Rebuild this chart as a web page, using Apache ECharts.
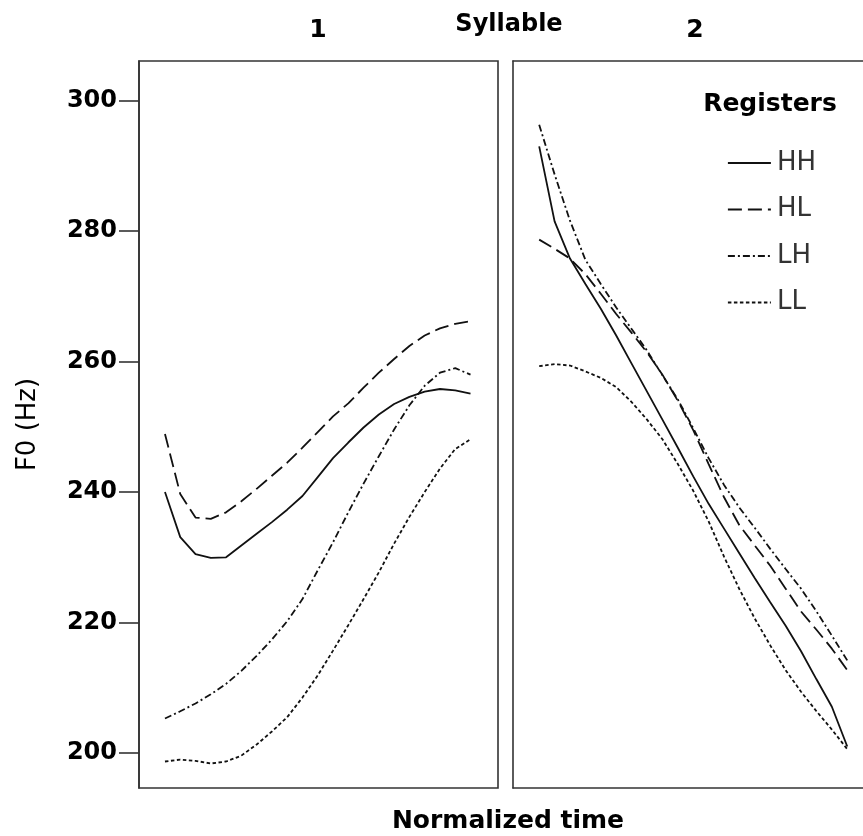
<!DOCTYPE html>
<html>
<head>
<meta charset="utf-8">
<script src="https://cdn.jsdelivr.net/npm/echarts@6/dist/echarts.min.js"></script>
<style>html,body{margin:0;padding:0;background:#fff}#c{width:863px;height:836px}</style>
</head>
<body>
<div id="c"></div>
<script>
// Normalized time (% of syllable), 21 samples
const timePoints = [0,5,10,15,20,25,30,35,40,45,50,55,60,65,70,75,80,85,90,95,100];
const yTicks = [200,220,240,260,280,300];
const registers = ['HH','HL','LH','LL'];
const panels = ['1','2'];

// Syllable 1 (F0 in Hz)
const hh1 = [240.0,233.1,230.5,229.9,230.0,231.8,233.6,235.4,237.3,239.4,242.3,245.2,247.6,249.9,251.9,253.5,254.6,255.4,255.8,255.6,255.1];
const hl1 = [248.9,239.7,236.1,235.9,236.9,238.6,240.5,242.5,244.5,246.8,249.2,251.6,253.6,256.0,258.3,260.4,262.4,264.0,265.1,265.8,266.2];
const lh1 = [205.3,206.4,207.6,209.0,210.6,212.6,214.9,217.4,220.2,223.6,228.0,232.3,236.9,241.3,245.5,249.6,253.3,256.3,258.3,259.0,258.0];
const ll1 = [198.7,199.0,198.8,198.4,198.7,199.6,201.3,203.3,205.5,208.5,211.9,215.7,219.6,223.6,227.7,232.1,236.2,240.0,243.6,246.6,248.1];

// Syllable 2 (F0 in Hz)
const hh2 = [293.0,281.5,275.8,271.9,268.1,264.0,259.7,255.4,251.1,246.8,242.4,238.2,234.4,230.6,226.8,223.1,219.5,215.6,211.3,207.1,201.0];
const hl2 = [278.7,277.3,275.8,273.4,270.4,267.3,264.4,261.4,258.0,254.0,249.5,244.3,239.2,234.9,231.8,228.7,225.2,221.7,218.9,216.0,212.7];
const lh2 = [296.3,288.7,281.6,275.6,271.9,268.3,265.0,261.7,257.9,254.2,249.8,245.2,241.1,237.6,234.5,231.3,228.2,225.2,221.7,218.0,214.2];
const ll2 = [259.3,259.6,259.4,258.5,257.5,256.1,253.8,251.1,248.1,244.3,240.2,235.5,230.1,225.1,220.6,216.5,212.7,209.4,206.4,203.6,200.6];

const panelData = [[hh1,hl1,lh1,ll1],[hh2,hl2,lh2,ll2]];
const dashTypes = ['solid',[14,6],[7,3,2,3],[3.5,2.5]];

const chart = echarts.init(document.getElementById('c'), null, {renderer:'canvas'});
const FONT = 'DejaVu Sans';
const FRAME = {color:'#333', width:1.6};
const LINE_C = '#111';

const series = [];
panelData.forEach((arrs, p) => {
  arrs.forEach((vals, k) => {
    series.push({
      type:'line', name: registers[k], xAxisIndex:p, yAxisIndex:p,
      data: timePoints.map((t,i)=>[t, vals[i]]),
      symbol:'none', showSymbol:false, smooth:false,
      lineStyle:{color:LINE_C, width:1.8, type: dashTypes[k]},
      itemStyle:{color:LINE_C},
      emphasis:{disabled:true}, silent:true
    });
  });
});

const yMin = 194.64, yMax = 306.08;
// panel 2 is cut by the right edge of the picture: same scale as panel 1
const x2Max = -8.5 + 350 / (362 / 117.5);

const bareAxis = {axisTick:{show:false}, axisLabel:{show:false}, splitLine:{show:false}};

chart.setOption({
  animation:false,
  backgroundColor:'#fff',
  grid:[
    {left:139, top:61, width:359, height:727, show:true, borderColor:FRAME.color, borderWidth:FRAME.width, backgroundColor:'transparent'},
    {left:513, top:61, width:350, height:727, show:false}
  ],
  xAxis:[
    {type:'value', gridIndex:0, min:-8.5, max:109, show:false},
    Object.assign({type:'value', gridIndex:1, min:-8.5, max:x2Max, position:'bottom',
      axisLine:{show:true, onZero:false, lineStyle:FRAME}}, bareAxis),
    Object.assign({type:'value', gridIndex:1, min:-8.5, max:x2Max, position:'top',
      axisLine:{show:true, onZero:false, lineStyle:FRAME}}, bareAxis)
  ],
  yAxis:[
    {type:'value', gridIndex:0, min:yMin, max:yMax,
     name:'F0 (Hz)', nameLocation:'middle', nameGap:98,
     nameTextStyle:{fontFamily:FONT, fontSize:26, color:'#000'},
     axisLine:{show:true, onZero:false, lineStyle:FRAME},
     axisTick:{show:true, inside:false, length:20, customValues:yTicks, lineStyle:FRAME},
     axisLabel:{show:true, customValues:yTicks, margin:22, fontFamily:FONT, fontWeight:'bold', fontSize:24, color:'#000'},
     splitLine:{show:false}},
    Object.assign({type:'value', gridIndex:1, min:yMin, max:yMax,
      axisLine:{show:true, onZero:false, lineStyle:FRAME}}, bareAxis)
  ],
  legend:{
    data: registers, orient:'vertical', left:722, top:145,
    itemWidth:43, itemHeight:25, itemGap:20.5,
    selectedMode:false,
    itemStyle:{color:'rgba(0,0,0,0)', borderWidth:0, borderColor:'rgba(0,0,0,0)', opacity:0},
    lineStyle:{color:LINE_C, width:1.8},
    textStyle:{fontFamily:FONT, fontSize:26, color:'#333', lineHeight:25, padding:[0,0,0,1]}
  },
  graphic:[
    {type:'text', x:318, y:30, style:{text:panels[0], fontFamily:FONT, fontWeight:'bold', fontSize:25, fill:'#000', textAlign:'center', textVerticalAlign:'middle'}},
    {type:'text', x:695, y:30, style:{text:panels[1], fontFamily:FONT, fontWeight:'bold', fontSize:25, fill:'#000', textAlign:'center', textVerticalAlign:'middle'}},
    {type:'text', x:509, y:25, style:{text:'Syllable', fontFamily:FONT, fontWeight:'bold', fontSize:24, fill:'#000', textAlign:'center', textVerticalAlign:'middle'}},
    {type:'text', x:770, y:104, style:{text:'Registers', fontFamily:FONT, fontWeight:'bold', fontSize:25, fill:'#000', textAlign:'center', textVerticalAlign:'middle'}},
    {type:'text', x:508, y:821, style:{text:'Normalized time', fontFamily:FONT, fontWeight:'bold', fontSize:25, fill:'#000', textAlign:'center', textVerticalAlign:'middle'}}
  ],
  series: series
});
</script>
</body>
</html>
